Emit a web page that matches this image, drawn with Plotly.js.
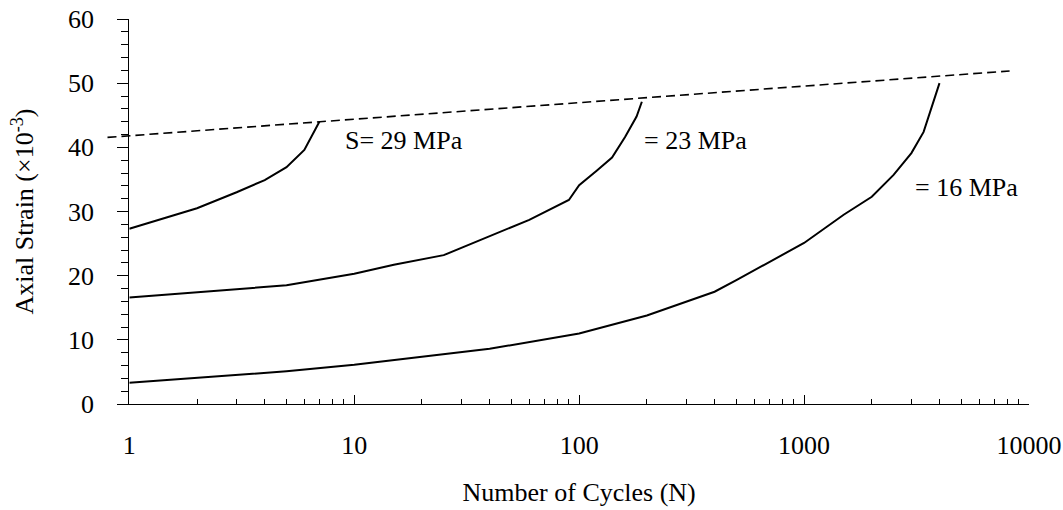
<!DOCTYPE html>
<html>
<head>
<meta charset="utf-8">
<script src="https://cdn.plot.ly/plotly-3.0.1.min.js"></script>
<style>html,body{margin:0;padding:0;background:#fff;}#chart{width:1063px;height:510px;}</style>
</head>
<body>
<div id="chart"></div>
<script>
// ---- data ----
const cyclesS29 = [1, 2, 3, 4, 5, 6, 7];
const strainS29 = [27.3, 30.5, 33.0, 34.9, 36.9, 39.6, 44.0];

const cyclesS23 = [1, 5, 10, 15, 25, 60, 90, 100, 120, 140, 160, 180, 190];
const strainS23 = [16.6, 18.5, 20.3, 21.7, 23.2, 28.7, 31.8, 34.1, 36.4, 38.4, 41.6, 44.8, 47.1];

const cyclesS16 = [1, 5, 10, 40, 100, 200, 400, 500, 1000, 1500, 2000, 2500, 3000, 3400, 4000];
const strainS16 = [3.3, 5.1, 6.1, 8.6, 11.0, 13.8, 17.5, 19.3, 25.1, 29.5, 32.3, 35.7, 39.1, 42.4, 50.0];

const failureCycles = [0.8, 8200];
const failureStrain = [41.55, 51.9];

const xTickVals = [1, 10, 100, 1000, 10000];
const xTickText = ['1', '10', '100', '1000', '10000'];

const labelTexts = ['S= 29 MPa', '= 23 MPa', '= 16 MPa'];
const labelCycles = [8.9, 190, 3040];
const labelStrain = [41.1, 41.1, 33.8];

// minor log ticks (2..9 in each decade)
const minorVals = [];
for (let d = 1; d < 10000; d *= 10) for (let k = 2; k <= 9; k++) minorVals.push(k * d);

const FONT = 'Liberation Serif, Times New Roman, serif';
const solid = {color: '#000', width: 2};

const traces = [
  {x: failureCycles, y: failureStrain, xaxis: 'x2', yaxis: 'y2', mode: 'lines',
   line: {color: '#000', width: 1.6, dash: '9px,5px'}, showlegend: false},
  {x: cyclesS29, y: strainS29, mode: 'lines', line: solid, showlegend: false},
  {x: cyclesS23, y: strainS23, mode: 'lines', line: solid, showlegend: false},
  {x: cyclesS16, y: strainS16, mode: 'lines', line: solid, showlegend: false}
];

const annotations = labelTexts.map((t, i) => ({
  x: Math.log10(labelCycles[i]), y: labelStrain[i], xref: 'x', yref: 'y',
  text: t, showarrow: false, xanchor: 'left', yanchor: 'middle',
  font: {family: FONT, size: 26, color: '#000'}
}));

const layout = {
  width: 1063, height: 510,
  margin: {l: 107, r: 34, t: 19, b: 106},
  paper_bgcolor: '#fff', plot_bgcolor: 'rgba(0,0,0,0)',
  showlegend: false,
  font: {family: FONT, size: 26, color: '#000'},
  xaxis: {
    type: 'log', range: [0, 4], domain: [22.3 / 922, 1], anchor: 'y',
    showline: true, linecolor: '#000', linewidth: 1, mirror: false,
    showgrid: false, zeroline: false,
    tickmode: 'array', tickvals: xTickVals, ticktext: xTickText,
    ticks: 'inside', ticklen: 9, tickwidth: 1, tickcolor: '#000',
    ticklabelstandoff: 18,
    tickfont: {family: FONT, size: 26, color: '#000'},
    minor: {tickmode: 'array', tickvals: minorVals, ticks: 'inside', ticklen: 5, tickwidth: 1, tickcolor: '#000', showgrid: false},
    title: {text: 'Number of Cycles (N)', font: {family: FONT, size: 26, color: '#000'}, standoff: 23}
  },
  yaxis: {
    range: [0, 60], anchor: 'x',
    showline: true, linecolor: '#000', linewidth: 1,
    showgrid: false, zeroline: false,
    tickmode: 'linear', tick0: 0, dtick: 10,
    ticks: 'outside', ticklen: 11, tickwidth: 1, tickcolor: '#000',
    ticklabelstandoff: 18,
    tickfont: {family: FONT, size: 26, color: '#000'},
    minor: {tick0: 0, dtick: 2, ticks: 'outside', ticklen: 7, tickwidth: 1, tickcolor: '#000', showgrid: false},
    title: {text: 'Axial Strain (×10<sup>-3</sup>)', font: {family: FONT, size: 26, color: '#000'}, standoff: 26}
  },
  xaxis2: {type: 'log', range: [-22.3 / 225, 4], domain: [0, 1], anchor: 'y2', visible: false},
  yaxis2: {range: [0, 60], domain: [0, 1], anchor: 'x2', visible: false},
  annotations: annotations
};

Plotly.newPlot('chart', traces, layout, {staticPlot: true, displayModeBar: false});
</script>
</body>
</html>
